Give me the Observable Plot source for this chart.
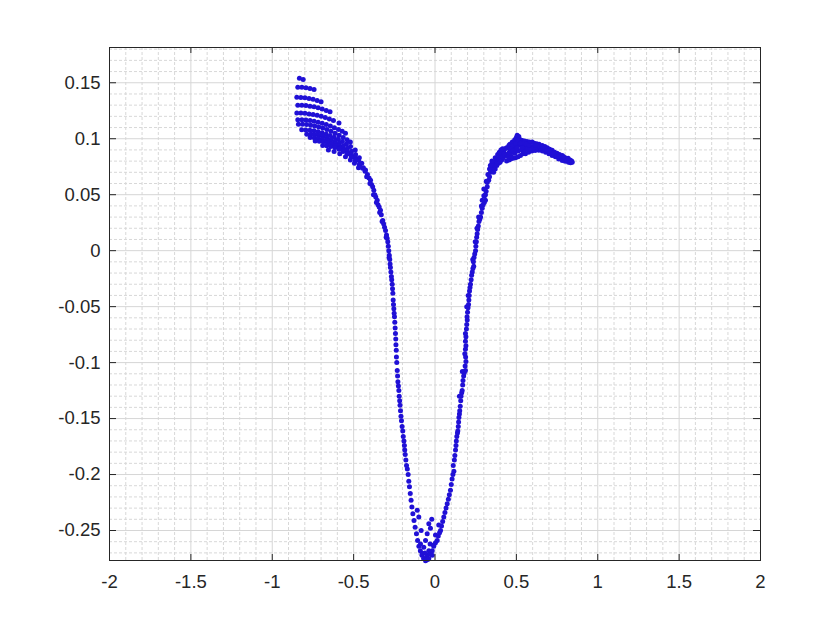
<!DOCTYPE html>
<html><head><meta charset="utf-8">
<script src="https://cdn.jsdelivr.net/npm/d3@7"></script>
<script src="https://cdn.jsdelivr.net/npm/@observablehq/plot@0.6"></script>
<style>body{margin:0;background:#fff}</style>
</head><body><div id="chart"></div>
<script>
// Axis tick values / labels
const xTicks = [-2,-1.5,-1,-0.5,0,0.5,1,1.5,2];
const yTicks = [-0.25,-0.2,-0.15,-0.1,-0.05,0,0.05,0.1,0.15];
const xMinor = [-1.9,-1.8,-1.7,-1.6,-1.4,-1.3,-1.2,-1.1,-0.9,-0.8,-0.7,-0.6,-0.4,-0.3,-0.2,-0.1,0.1,0.2,0.3,0.4,0.6,0.7,0.8,0.9,1.1,1.2,1.3,1.4,1.6,1.7,1.8,1.9];
const yMinor = [-0.27,-0.26,-0.24,-0.23,-0.22,-0.21,-0.19,-0.18,-0.17,-0.16,-0.14,-0.13,-0.12,-0.11,-0.09,-0.08,-0.07,-0.06,-0.04,-0.03,-0.02,-0.01,0.01,0.02,0.03,0.04,0.06,0.07,0.08,0.09,0.11,0.12,0.13,0.14,0.16,0.17,0.18];

// Data: [x, y] pairs
const fanTop = [
  [-0.833,0.154],[-0.81,0.153],
  [-0.843,0.146],[-0.818,0.1459],[-0.793,0.1455],[-0.768,0.1449],[-0.743,0.144],
  [-0.849,0.137],[-0.824,0.1369],[-0.799,0.1365],[-0.774,0.136],[-0.749,0.1352],[-0.724,0.1342],[-0.70,0.133],
  [-0.843,0.130],[-0.818,0.1299],[-0.793,0.1296],[-0.768,0.1291],[-0.743,0.1285],[-0.718,0.1276],[-0.693,0.1266],[-0.668,0.1253],[-0.645,0.124],
  [-0.849,0.123],[-0.824,0.1229],[-0.799,0.1227],[-0.774,0.1222],[-0.749,0.1217],[-0.724,0.1209],[-0.699,0.12],[-0.674,0.1189],[-0.649,0.1176],[-0.624,0.1162],[-0.59,0.114],
  [-0.843,0.117],[-0.818,0.1169],[-0.793,0.1167],[-0.768,0.1162],[-0.743,0.1156],[-0.718,0.1148],[-0.693,0.1139],[-0.668,0.1127],[-0.643,0.1114],[-0.618,0.1099],[-0.593,0.1083],[-0.57,0.1066],[-0.55,0.105]
];
const fanBottom = [
  [-0.839,0.113],[-0.814,0.1129],[-0.789,0.1126],[-0.764,0.1121],[-0.739,0.1114],[-0.714,0.1105],[-0.689,0.1095],[-0.664,0.1082],[-0.639,0.1067],[-0.614,0.105],[-0.589,0.1032],[-0.564,0.1011],[-0.54,0.099],[-0.52,0.097],
  [-0.819,0.108],[-0.794,0.1079],[-0.769,0.1076],[-0.744,0.1071],[-0.719,0.1063],[-0.694,0.1054],[-0.669,0.1043],[-0.644,0.1029],[-0.619,0.1013],[-0.594,0.0996],[-0.569,0.0976],[-0.544,0.0954],[-0.519,0.093],[-0.49,0.09],
  [-0.788,0.104],[-0.763,0.1039],[-0.738,0.1035],[-0.713,0.1029],[-0.688,0.102],[-0.663,0.1009],[-0.638,0.0995],[-0.613,0.0978],[-0.588,0.096],[-0.563,0.0938],[-0.538,0.0914],[-0.513,0.0888],[-0.488,0.0859],[-0.465,0.083],
  [-0.767,0.101],[-0.742,0.1009],[-0.717,0.1004],[-0.692,0.0997],[-0.667,0.0987],[-0.642,0.0974],[-0.617,0.0958],[-0.592,0.094],[-0.567,0.0918],[-0.542,0.0894],[-0.517,0.0867],[-0.492,0.0837],[-0.47,0.0808],[-0.45,0.078],
  [-0.736,0.098],[-0.711,0.0978],[-0.686,0.0973],[-0.661,0.0965],[-0.636,0.0953],[-0.611,0.0937],[-0.586,0.0918],[-0.561,0.0896],[-0.536,0.087],[-0.511,0.0841],[-0.486,0.0809],[-0.462,0.0774],[-0.44,0.074],
  [-0.69,0.094],[-0.665,0.0938],[-0.64,0.0931],[-0.615,0.0921],[-0.59,0.0906],[-0.565,0.0887],[-0.54,0.0863],[-0.515,0.0836],[-0.49,0.0804],[-0.465,0.0768],[-0.445,0.0736],[-0.43,0.071],
  [-0.655,0.090],[-0.62,0.0885],[-0.585,0.0865],[-0.55,0.084],[-0.52,0.081],[-0.495,0.078],[-0.47,0.074]
];
const descent = [
  [-0.427,0.072],[-0.415,0.068],[-0.405,0.065],[-0.396,0.063],[-0.39,0.059],[-0.383,0.057],[-0.376,0.054],[-0.37,0.050],
  [-0.364,0.048],[-0.355,0.045],[-0.35,0.041],[-0.343,0.039],[-0.335,0.036],[-0.33,0.032],[-0.321,0.027],[-0.316,0.024],
  [-0.31,0.021],[-0.304,0.018],[-0.298,0.014],[-0.294,0.011],[-0.29,0.008],[-0.287,0.004],[-0.284,0.000],[-0.281,-0.004],
  [-0.278,-0.008],[-0.276,-0.012],[-0.274,-0.015],[-0.271,-0.019],[-0.268,-0.023],[-0.266,-0.026],[-0.263,-0.030],[-0.261,-0.034],
  [-0.259,-0.038],[-0.257,-0.044],[-0.255,-0.048],[-0.253,-0.052],[-0.251,-0.056],[-0.249,-0.059],[-0.247,-0.064],[-0.245,-0.069],
  [-0.243,-0.074],[-0.241,-0.079],[-0.24,-0.084],[-0.238,-0.089],[-0.237,-0.095],[-0.235,-0.100],[-0.232,-0.107],[-0.230,-0.112],
  [-0.228,-0.117],[-0.225,-0.121],[-0.222,-0.125],[-0.220,-0.130],[-0.217,-0.134],[-0.215,-0.138],[-0.212,-0.143],[-0.209,-0.148],
  [-0.206,-0.152],[-0.202,-0.157],[-0.198,-0.161],[-0.195,-0.166],[-0.191,-0.170],[-0.188,-0.174],[-0.186,-0.178],[-0.183,-0.182],
  [-0.179,-0.187],[-0.175,-0.192],[-0.170,-0.195],[-0.165,-0.200],[-0.161,-0.206],[-0.157,-0.211],[-0.152,-0.217],[-0.147,-0.223],
  [-0.142,-0.229],[-0.136,-0.235],[-0.129,-0.241],[-0.122,-0.247],[-0.114,-0.253],[-0.107,-0.259],[-0.099,-0.264],[-0.090,-0.268],
  [-0.080,-0.272],[-0.070,-0.275],
  [-0.42,0.066],[-0.40,0.060],[-0.378,0.050],[-0.36,0.043],[-0.34,0.034],[-0.325,0.026],[-0.30,0.012],[-0.282,-0.006]
];
const trough = [
  [-0.038,-0.244],[-0.028,-0.248],[-0.0996,-0.238],[-0.109,-0.232],[-0.048,-0.253],[0.003,-0.254],[-0.058,-0.259],[-0.007,-0.263],
  [-0.069,-0.265],[-0.038,-0.268],[-0.079,-0.2705],[-0.048,-0.272],[-0.017,-0.272],[-0.063,-0.275],[-0.058,-0.277],[-0.089,-0.262],
  [0.023,-0.245],[-0.052,-0.276],[-0.045,-0.276],[-0.062,-0.270],[-0.030,-0.262],[-0.085,-0.250],[-0.020,-0.240]
];
const rise = [
  [-0.038,-0.275],[-0.028,-0.271],[-0.017,-0.268],[-0.008,-0.264],[0.003,-0.261],[0.0135,-0.259],[0.02,-0.255],[0.028,-0.252],
  [0.034,-0.250],[0.040,-0.246],[0.047,-0.242],[0.054,-0.238],[0.061,-0.234],[0.068,-0.230],[0.075,-0.226],[0.082,-0.222],
  [0.088,-0.218],[0.095,-0.214],[0.100,-0.209],[0.105,-0.204],[0.110,-0.200],[0.116,-0.197],[0.112,-0.192],[0.119,-0.187],
  [0.122,-0.183],[0.126,-0.178],[0.129,-0.174],[0.131,-0.170],[0.134,-0.166],[0.138,-0.163],[0.140,-0.161],[0.143,-0.157],
  [0.145,-0.153],[0.147,-0.149],[0.150,-0.146],[0.152,-0.143],[0.155,-0.139],[0.158,-0.134],[0.160,-0.130],[0.164,-0.127],
  [0.167,-0.125],[0.170,-0.120],[0.172,-0.116],[0.176,-0.112],[0.180,-0.109],[0.187,-0.107],[0.185,-0.103],[0.190,-0.099],
  [0.188,-0.095],[0.183,-0.092],[0.187,-0.088],[0.190,-0.085],[0.187,-0.081],[0.190,-0.077],[0.187,-0.074],[0.193,-0.070],
  [0.195,-0.066],[0.198,-0.062],[0.197,-0.059],[0.200,-0.055],[0.203,-0.051],[0.206,-0.048],[0.208,-0.044],[0.210,-0.040],
  [0.212,-0.036],[0.215,-0.033],[0.218,-0.030],[0.222,-0.026],[0.225,-0.022],[0.229,-0.019],[0.233,-0.016],[0.238,-0.014],
  [0.236,-0.010],[0.240,-0.006],[0.244,-0.003],[0.249,0.000],[0.251,0.004],[0.254,0.008],[0.256,0.012],[0.259,0.015],
  [0.262,0.019],[0.266,0.022],[0.270,0.026],[0.275,0.028],[0.280,0.030],[0.285,0.034],[0.290,0.038],[0.296,0.041],
  [0.303,0.043],[0.310,0.045],[0.305,0.049],[0.300,0.049],[0.314,0.053],[0.321,0.057],[0.321,0.061],[0.33,0.063],
  [0.335,0.066],[0.341,0.070],[0.348,0.072],[0.355,0.074],[0.361,0.076],[0.368,0.079],[0.375,0.080],[0.383,0.082],
  [0.392,0.082],[0.400,0.085],[0.41,0.086],[0.423,0.088],[0.43,0.091],[0.44,0.092],[0.454,0.094],
  [0.29,0.045],[0.30,0.055],[0.315,0.062],[0.325,0.068],[0.335,0.073],[0.35,0.078],[0.285,0.040],[0.31,0.050],
  [0.268,0.030],[0.258,0.020],[0.247,0.008],[0.232,-0.008],[0.204,-0.040],[0.195,-0.050],[0.168,-0.108],[0.150,-0.130],
  [0.36,0.070],[0.37,0.073],[0.38,0.076],[0.39,0.078],[0.40,0.079],[0.41,0.081],[0.42,0.083],[0.43,0.085],
  [0.37,0.083],[0.385,0.086],[0.395,0.088],[0.405,0.090],[0.415,0.091],[0.35,0.080],[0.34,0.076]
];
const peak = [
  [0.46,0.095],[0.475,0.097],[0.49,0.099],[0.50,0.101],[0.505,0.103],[0.515,0.102],[0.525,0.099],[0.536,0.0985],
  [0.55,0.098],[0.565,0.0975],[0.58,0.097],[0.597,0.097],[0.61,0.096],[0.625,0.0955],[0.64,0.095],[0.659,0.094],
  [0.675,0.093],[0.69,0.092],[0.705,0.0905],[0.72,0.0896],[0.735,0.088],[0.75,0.087],[0.765,0.086],[0.782,0.085],
  [0.80,0.083],[0.815,0.0815],[0.833,0.0797],[0.843,0.079],
  [0.44,0.080],[0.455,0.081],[0.465,0.082],[0.48,0.0825],[0.495,0.083],[0.51,0.084],[0.525,0.085],[0.54,0.0865],
  [0.556,0.0866],[0.575,0.088],[0.595,0.089],[0.615,0.0895],[0.638,0.0896],[0.66,0.089],[0.68,0.088],[0.70,0.0865],
  [0.72,0.085],[0.74,0.084],[0.76,0.082],[0.782,0.0806],[0.80,0.0798],[0.82,0.079],[0.833,0.0786],
  [0.44,0.086],[0.455,0.088],[0.47,0.09],[0.485,0.092],[0.50,0.094],[0.515,0.095],[0.53,0.094],[0.545,0.093],
  [0.56,0.092],[0.575,0.093],[0.59,0.093],[0.61,0.093],[0.63,0.092],[0.65,0.0915],[0.67,0.091],[0.69,0.090],
  [0.71,0.088],[0.73,0.087],[0.75,0.085],[0.77,0.0835],[0.79,0.082],[0.81,0.0805],[0.825,0.080],[0.47,0.084],
  [0.49,0.087],[0.51,0.089],[0.53,0.09],[0.55,0.0895],[0.57,0.091],[0.46,0.091],[0.48,0.094],[0.52,0.097],
  [0.54,0.096],[0.56,0.095],
  [0.45,0.084],[0.465,0.087],[0.48,0.089],[0.495,0.0905],[0.505,0.092],[0.495,0.096],[0.51,0.099],[0.525,0.096],
  [0.535,0.092],[0.58,0.094],[0.60,0.091],[0.62,0.094],[0.645,0.093],[0.66,0.0925],[0.70,0.089],[0.76,0.084],
  [0.79,0.084],[0.83,0.081],[0.84,0.080],[0.818,0.0825]
];

const points = [...fanTop, ...fanBottom, ...descent, ...trough, ...rise, ...peak].map(([x, y]) => ({x, y}));

const axisColor = "#262626";
const chart = Plot.plot({
  width: 840, height: 630,
  marginLeft: 109, marginRight: 80, marginTop: 47, marginBottom: 70,
  style: {fontFamily: "Arial, 'Liberation Sans', Helvetica, sans-serif", fontSize: "18.5px", color: axisColor, background: "#fff"},
  x: {domain: [-2, 2], label: null},
  y: {domain: [-0.2768, 0.1815], label: null},
  marks: [
    Plot.ruleX(xMinor, {stroke: "#d8d8d8", strokeDasharray: "3,2"}),
    Plot.ruleY(yMinor, {stroke: "#d8d8d8", strokeDasharray: "3,2"}),
    Plot.ruleX(xTicks, {stroke: "#d6d6d6"}),
    Plot.ruleY(yTicks, {stroke: "#d6d6d6"}),
    Plot.dot(points, {x: "x", y: "y", r: 2.5, fill: "#2010d6"}),
    Plot.ruleX(xTicks, {stroke: axisColor, insetTop: 507}),
    Plot.ruleX(xTicks, {stroke: axisColor, insetBottom: 507}),
    Plot.ruleY(yTicks, {stroke: axisColor, insetRight: 644}),
    Plot.ruleY(yTicks, {stroke: axisColor, insetLeft: 644}),
    Plot.frame({stroke: axisColor}),
    Plot.axisX(xTicks, {tickSize: 0, tickPadding: 14, tickFormat: d => String(d), fontSize: 18.5}),
    Plot.axisY(yTicks, {tickSize: 0, tickPadding: 9, tickFormat: d => String(d), fontSize: 18.5})
  ]
});
document.getElementById("chart").appendChild(chart);
</script>
</body></html>
